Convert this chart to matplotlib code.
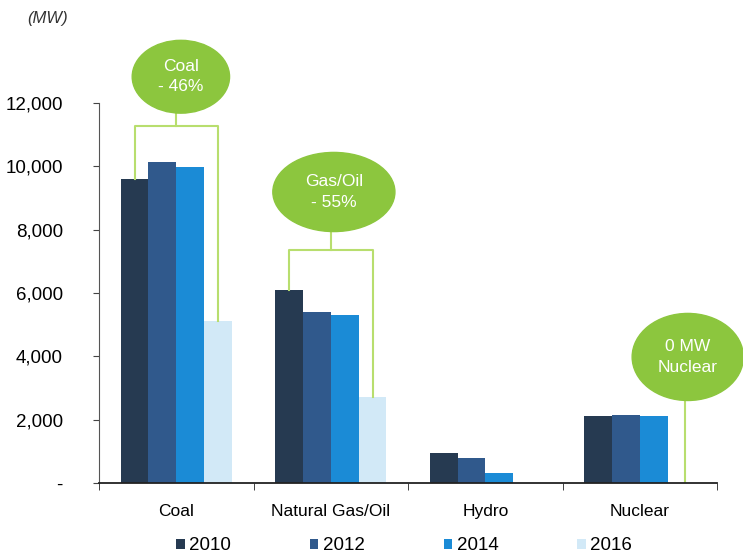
import matplotlib.pyplot as plt
from matplotlib.patches import Ellipse
from matplotlib.ticker import FuncFormatter, FixedLocator
import numpy as np

plt.rcParams['font.family'] = ['Liberation Sans', 'DejaVu Sans']

categories = ['Coal', 'Natural Gas/Oil', 'Hydro', 'Nuclear']
years = ['2010', '2012', '2014', '2016']
mw_2010 = [9600, 6100, 950, 2100]
mw_2012 = [10150, 5400, 790, 2150]
mw_2014 = [9980, 5300, 310, 2120]
mw_2016 = [5100, 2700, 0, 0]
colors = ['#263a51', '#30598c', '#1b8bd6', '#d2e9f7']

series = [mw_2010, mw_2012, mw_2014, mw_2016]

fig = plt.figure(figsize=(7.43, 5.59), dpi=100)
ax = fig.add_axes([0.1332, 0.136, 0.832, 0.6797])

x = np.arange(len(categories))
w = 0.18
for i, (vals, c, lab) in enumerate(zip(series, colors, years)):
    ax.bar(x + (i - 1.5) * w, vals, w, color=c, label=lab)

ax.set_xlim(-0.5, 3.5)
ax.set_ylim(0, 12000)
ax.set_yticks(range(0, 12001, 2000))
ax.yaxis.set_major_formatter(FuncFormatter(lambda v, p: '-' if v == 0 else f'{int(v):,}'))
ax.set_xticks(x)
ax.set_xticklabels(categories)
ax.xaxis.set_minor_locator(FixedLocator([-0.5, 0.5, 1.5, 2.5, 3.5]))
ax.tick_params(axis='x', which='major', length=0, pad=15, labelsize=12.5)
ax.tick_params(axis='x', which='minor', length=5, color='#222222')
ax.tick_params(axis='y', length=4, pad=22, labelsize=13.5, color='#444444')
for s in ['top', 'right']:
    ax.spines[s].set_visible(False)
ax.spines['left'].set_color('#555555')
ax.spines['bottom'].set_color('#222222')
ax.spines['bottom'].set_linewidth(1.3)

fig.text(0.036, 0.958, '(MW)', fontsize=12, style='italic', color='#333333')

green = '#8cc63e'
line_green = '#b8de6e'

# callout bubbles with brackets
def bracket(ci, ytop, left_v, right_v, by, bx, bw, bh, text):
    xl = ci - 1.5 * w
    xr = ci + 1.5 * w
    ax.plot([xl, xl, xr, xr], [left_v, ytop, ytop, right_v], color=line_green,
            lw=1.5, clip_on=False, zorder=1)
    ax.plot([ci, ci], [ytop, by - bh / 2], color=line_green, lw=1.5, clip_on=False, zorder=1)
    ax.add_patch(Ellipse((bx, by), bw, bh, color=green, clip_on=False, zorder=3))
    ax.text(bx, by, text, color='white', ha='center', va='center', fontsize=12.5,
            linespacing=1.45, zorder=4, clip_on=False)

bracket(0, 11280, mw_2010[0], mw_2016[0], 12830, 0.03, 0.63, 2300, 'Coal\n- 46%')
bracket(1, 7360, mw_2010[1], mw_2016[1], 9190, 1.02, 0.79, 2500, 'Gas/Oil\n- 55%')

nx = 3 + 0.29
ax.plot([nx, nx], [0, 3980 - 1375], color=line_green, lw=1.5, zorder=1)
ax.add_patch(Ellipse((3.31, 3980), 0.72, 2750, color=green, clip_on=False, zorder=3))
ax.text(3.31, 3980, '0 MW\nNuclear', color='white', ha='center', va='center',
        fontsize=12.5, linespacing=1.45, zorder=4, clip_on=False)

fig.legend(loc='lower center', bbox_to_anchor=(0.544, -0.022), ncol=4, frameon=False,
           fontsize=13.5, handlelength=0.45, handleheight=0.45, handletextpad=0.25,
           columnspacing=4.2)

fig.savefig('out.png', dpi=100)
